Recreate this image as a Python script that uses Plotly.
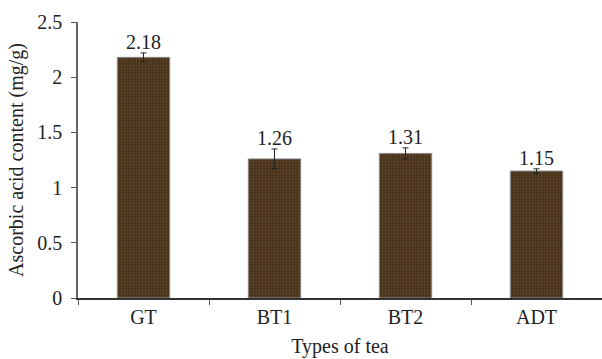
import plotly.graph_objects as go

categories = ["GT", "BT1", "BT2", "ADT"]
values = [2.18, 1.26, 1.31, 1.15]
errors = [0.04, 0.09, 0.05, 0.02]
labels = ["2.18", "1.26", "1.31", "1.15"]
y_ticks = [0, 0.5, 1, 1.5, 2, 2.5]
y_tick_text = ["0", "0.5", "1", "1.5", "2", "2.5"]

FONT = "Liberation Serif"
TXT = "#222222"

fig = go.Figure()
fig.add_trace(go.Bar(
    x=categories, y=values, width=0.4,
    marker=dict(
        color="#45301c",
        line=dict(color="#8c8c8c", width=1),
        pattern=dict(shape=".", fgcolor="#7d5d3a", bgcolor="#3e2a18", size=3, solidity=0.5),
    ),
    error_y=dict(type="data", array=errors, visible=True, color="#222222", thickness=1, width=3),
    hoverinfo="skip",
))

for c, v, e, t in zip(categories, values, errors, labels):
    fig.add_annotation(x=c, y=v + e, text=t, showarrow=False, yanchor="bottom", yshift=-2,
                       font=dict(family=FONT, size=20, color=TXT))

fig.update_layout(
    width=602, height=359,
    margin=dict(l=78, r=0, t=22, b=61),
    paper_bgcolor="white", plot_bgcolor="white",
    showlegend=False,
    font=dict(family=FONT, color=TXT),
)
fig.update_xaxes(
    type="category", tickson="boundaries", ticks="outside", ticklen=5, tickcolor="#555555",
    showline=True, linecolor="#333333", linewidth=1.5, showgrid=False,
    tickfont=dict(family=FONT, size=20, color=TXT),
    title=dict(text="Types of tea", font=dict(family=FONT, size=20, color=TXT), standoff=12),
)
fig.update_yaxes(
    range=[0, 2.5], tickvals=y_ticks, ticktext=y_tick_text, ticks="outside", ticklen=5,
    tickcolor="#555555", showline=True, linecolor="#666666", linewidth=1.5, showgrid=False,
    zeroline=False, ticklabelstandoff=5,
    tickfont=dict(family=FONT, size=20, color=TXT),
    title=dict(text="Ascorbic acid content (mg/g)", font=dict(family=FONT, size=20, color=TXT), standoff=8),
)

fig.write_html("out.html")
